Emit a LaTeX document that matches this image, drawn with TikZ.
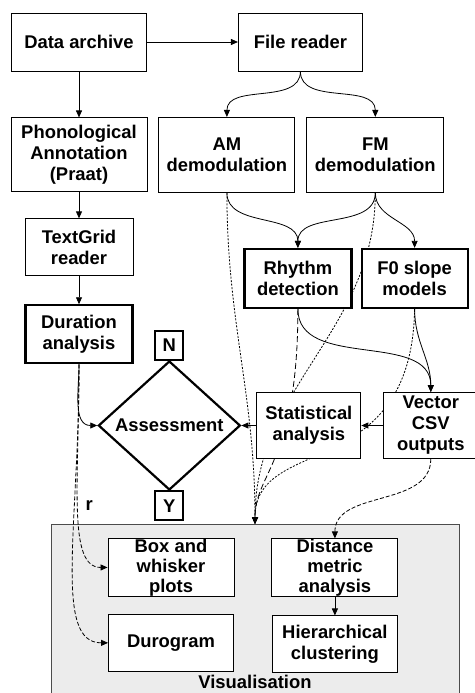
\documentclass[tikz,border=0pt]{standalone}
\usepackage{fontspec}
\setmainfont{Liberation Sans}
\usetikzlibrary{arrows.meta,positioning,shapes.geometric,backgrounds,calc}
\tikzset{
  block/.style={draw=black, line width=0.9pt, fill=white, align=center, inner sep=2pt,
    font=\bfseries\fontsize{18.4}{21}\selectfont},
  thickblock/.style={block, line width=2.2pt},
  decision/.style={thickblock, diamond, aspect=1.1, inner sep=0pt,
    minimum width=142pt, minimum height=129pt},
  tag/.style={thickblock, minimum width=28pt, minimum height=29pt, inner sep=0pt},
  container/.style={draw=black!70, line width=0.9pt, fill=gray!15,
    minimum width=408pt, minimum height=176pt},
  arr/.style={-{Triangle[length=7pt,width=6pt]}, line width=0.8pt},
  darr/.style={arr, dash pattern=on 4pt off 2pt},
  dotarr/.style={arr, dash pattern=on 2pt off 1.5pt},
  ldarr/.style={arr, dash pattern=on 6pt off 3pt}
}
\begin{document}
\begin{tikzpicture}
  \useasboundingbox (0,0) rectangle (474pt,-693pt);

  % ---- Annotation column ----
  \node[block, minimum width=135pt, minimum height=58pt] (archive) at (79pt,-42pt) {Data archive};
  \node[block, right=91pt of archive, minimum width=124pt, minimum height=58pt] (reader) {File reader};
  \node[block, below=46pt of archive, minimum width=136pt, minimum height=74pt] (phono)
    {Phonological\\Annotation\\(Praat)};
  \node[block, below=26pt of phono, minimum width=108pt, minimum height=57pt] (textgrid) {TextGrid\\reader};
  \node[thickblock, below=28pt of textgrid, minimum width=107pt, minimum height=58pt] (duration)
    {Duration\\analysis};

  % ---- Signal branch ----
  \node[block, right=11pt of phono, minimum width=136pt, minimum height=75pt] (am) {AM\\demodulation};
  \node[block, right=11pt of am, minimum width=137pt, minimum height=75pt] (fm) {FM\\demodulation};
  \node[thickblock, below=55pt of am, xshift=71pt, minimum width=107pt, minimum height=59pt] (rhythm)
    {Rhythm\\detection};
  \node[thickblock, right=8pt of rhythm, minimum width=106pt, minimum height=59pt] (slope) {F0 slope\\models};
  \node[block, below=83pt of rhythm, xshift=11pt, minimum width=104pt, minimum height=66pt] (stats)
    {Statistical\\analysis};
  \node[block, right=22pt of stats, minimum width=94pt, minimum height=66pt] (csv) {Vector\\CSV\\outputs};

  % ---- Decision ----
  \node[decision, left=15pt of stats] (assess) {Assessment};
  \node[tag, above=-1pt of assess] (no) {N};
  \node[tag, below=-1pt of assess] (yes) {Y};
  \node[font=\bfseries\fontsize{18.4}{21}\selectfont, left=58pt of yes] (rlabel) {r};

  % ---- Visualisation panel ----
  \begin{scope}[on background layer]
    \node[container, anchor=north] (vis) at (255pt,-524pt) {};
  \end{scope}
  \node[font=\bfseries\fontsize{18.4}{21}\selectfont] (vislabel) at ($(vis.south)+(0,19pt)$) {Visualisation};
  \node[block, inner ysep=0pt, font=\bfseries\fontsize{18.4}{20}\selectfont,
    below right=14pt and 57pt of vis.north west, minimum width=126pt, minimum height=58pt] (boxplot)
    {Box and\\whisker\\plots};
  \node[block, below=17pt of boxplot, minimum width=125pt, minimum height=57pt] (durogram) {Durogram};
  \node[block, inner ysep=0pt, font=\bfseries\fontsize{18.4}{20}\selectfont,
    right=37pt of boxplot, minimum width=126pt, minimum height=57pt] (distance)
    {Distance\\metric\\analysis};
  \node[block, below=19pt of distance, minimum width=125pt, minimum height=57pt] (cluster)
    {Hierarchical\\clustering};

  % ---- Connectors, kept behind the boxes ----
  \begin{scope}[on background layer]
    \draw[arr] (archive) -- (reader);
    \draw[arr] (archive) -- (phono);
    \draw[arr] (phono) -- (textgrid);
    \draw[arr] (textgrid) -- (duration);
    \draw[arr] (reader.south) to[out=-90, in=90] (am.north);
    \draw[arr] (reader.south) to[out=-90, in=90] (fm.north);
    \draw[arr] (am.south) to[out=-90, in=90] (rhythm.north);
    \draw[arr] (fm.south) to[out=-90, in=90] (rhythm.north);
    \draw[arr] (fm.south) to[out=-90, in=90] (slope.north);
    \draw[arr] (rhythm.south) to[out=-90, in=90] (csv.north);
    \draw[arr] (slope.south) to[out=-90, in=90] (csv.north);
    \draw[arr] (csv) -- (stats);
    \draw[arr] (stats) -- (assess);
    \draw[arr] (duration.south) to[out=-90, in=180] (assess.west);
    \draw[darr] (duration.south) to[out=-90, in=180, out looseness=1.5, in looseness=0.5] (boxplot.west);
    \draw[darr] (duration.south) to[out=-90, in=180, out looseness=1.5, in looseness=0.5] (durogram.west);
    \draw[dotarr] (am.south) to[out=-90, in=90] (vis.north);
    \draw[dotarr] (fm.south) to[out=-90, in=90] (vis.north);
    \draw[ldarr] (rhythm.south) to[out=-90, in=90, out looseness=1.8, in looseness=0.6] (vis.north);
    \draw[dotarr] (slope.south) .. controls ($(slope.south)+(-3pt,-175pt)$)
      and ($(vis.north)+(0,90pt)$) .. (vis.north);
    \draw[darr] (csv.south) to[out=-90, in=90] (distance.north);
    \draw[arr] (distance) -- (cluster);
  \end{scope}
\end{tikzpicture}
\end{document}
